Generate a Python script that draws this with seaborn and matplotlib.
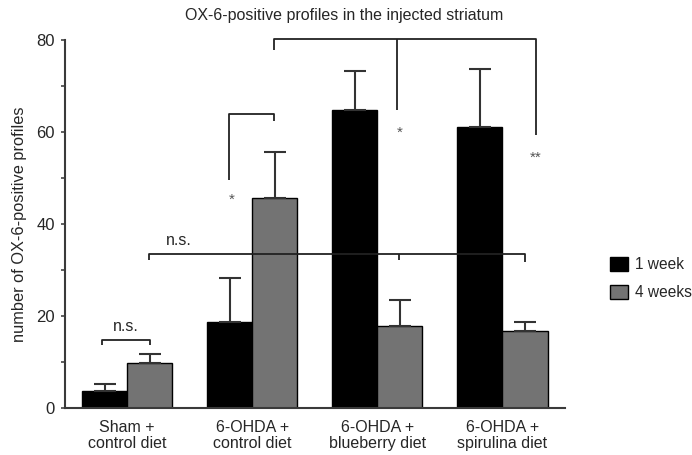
import numpy as np
import pandas as pd
import matplotlib
matplotlib.use("Agg")
import matplotlib.pyplot as plt
import seaborn as sns
from matplotlib.patches import Patch

# Group labels and measured values (mean and upper error)
groups = ["Sham +\ncontrol diet", "6-OHDA +\ncontrol diet",
          "6-OHDA +\nblueberry diet", "6-OHDA +\nspirulina diet"]
periods = ["1 week", "4 weeks"]
week1 = [3.8, 18.8, 64.8, 61.1]
week1_err = [1.4, 9.5, 8.6, 12.6]
week4 = [9.7, 45.8, 17.9, 16.8]
week4_err = [2.0, 9.9, 5.6, 1.9]
yticks = [0, 20, 40, 60, 80]

df = pd.DataFrame({
    "group": groups * 2,
    "period": [periods[0]] * 4 + [periods[1]] * 4,
    "count": week1 + week4,
})

sns.set_style("white")
plt.rcParams["font.family"] = ["Liberation Sans", "DejaVu Sans"]

fig = plt.figure(figsize=(6.92, 4.55), dpi=100)
ax = fig.add_axes([0.0935, 0.1033, 0.723, 0.808])

gray = "#737373"
sns.barplot(data=df, x="group", y="count", hue="period", order=groups,
            hue_order=periods, palette=["black", gray], width=0.72, gap=0,
            edgecolor="black", linewidth=1.0, errorbar=None, legend=False,
            saturation=1, ax=ax)

# Upper-only error bars
errs = [week1_err, week4_err]
vals = [week1, week4]
for cont, v, e in zip(ax.containers, vals, errs):
    xs = [p.get_x() + p.get_width() / 2 for p in cont]
    ax.errorbar(xs, v, yerr=[np.zeros(len(e)), e], fmt="none",
                ecolor="#333333", elinewidth=1.5, capsize=8, capthick=1.5,
                zorder=5)

ax.set_xlim(-0.5, 3.5)
ax.set_ylim(0, 80)
ax.set_yticks(yticks)
ax.set_yticks([10, 30, 50, 70], minor=True)
ax.tick_params(axis="y", which="both", direction="out", length=3, width=1.2,
               color="#444444", left=True, labelsize=12, pad=4)
ax.tick_params(axis="x", length=0, labelsize=11.5, pad=9)
for lab in ax.get_xticklabels():
    lab.set_linespacing(1.05)
ax.set_xlabel("")
ax.set_ylabel("number of OX-6-positive profiles", fontsize=11.8, labelpad=7)
sns.despine(ax=ax)
for s in ["left", "bottom"]:
    ax.spines[s].set_color("#3a3a3a")
    ax.spines[s].set_linewidth(1.5)

fig.text(0.497, 0.965, "OX-6-positive profiles in the injected striatum",
         ha="center", va="center", fontsize=11.5)

lc = "#222222"
lw = 1.3


def seg(xs, ys):
    ax.plot(xs, ys, color=lc, lw=lw, clip_on=False, zorder=6,
            solid_capstyle="butt")


# Sham comparison
seg([-0.2, -0.2, 0.18, 0.18], [13.7, 14.8, 14.8, 13.7])
ax.text(-0.01, 16.2, "n.s.", ha="center", va="bottom", fontsize=11.5)

# Sham vs. lesioned 4-week groups
seg([0.17, 0.17, 3.18, 3.18], [32.1, 33.5, 33.5, 31.7])
seg([2.17, 2.17], [33.5, 32.2])
ax.text(0.41, 34.8, "n.s.", ha="center", va="bottom", fontsize=11.5)

# 1 week vs 4 weeks in the control-diet lesion group
seg([0.81, 0.81, 1.17, 1.17], [49.7, 64.0, 64.0, 62.5])
ax.text(0.834, 45.3, "*", ha="center", va="center", fontsize=11,
        color="#555555")

# Diet effect at 4 weeks
seg([1.17, 1.17, 3.27, 3.27], [77.8, 80.4, 80.4, 59.5])
seg([2.155, 2.155], [80.4, 64.9])
ax.text(2.18, 59.9, "*", ha="center", va="center", fontsize=11,
        color="#555555")
ax.text(3.264, 54.5, "**", ha="center", va="center", fontsize=11,
        color="#555555")

handles = [Patch(facecolor="black", edgecolor="black", label=periods[0]),
           Patch(facecolor=gray, edgecolor="black", label=periods[1])]
fig.legend(handles=handles, loc="upper left",
           bbox_to_anchor=(0.881, 0.436), frameon=False, fontsize=11.2,
           handlelength=1.2, handleheight=1.0, handletextpad=0.4,
           labelspacing=0.85, borderpad=0, borderaxespad=0)

fig.savefig("out.png", dpi=100)
